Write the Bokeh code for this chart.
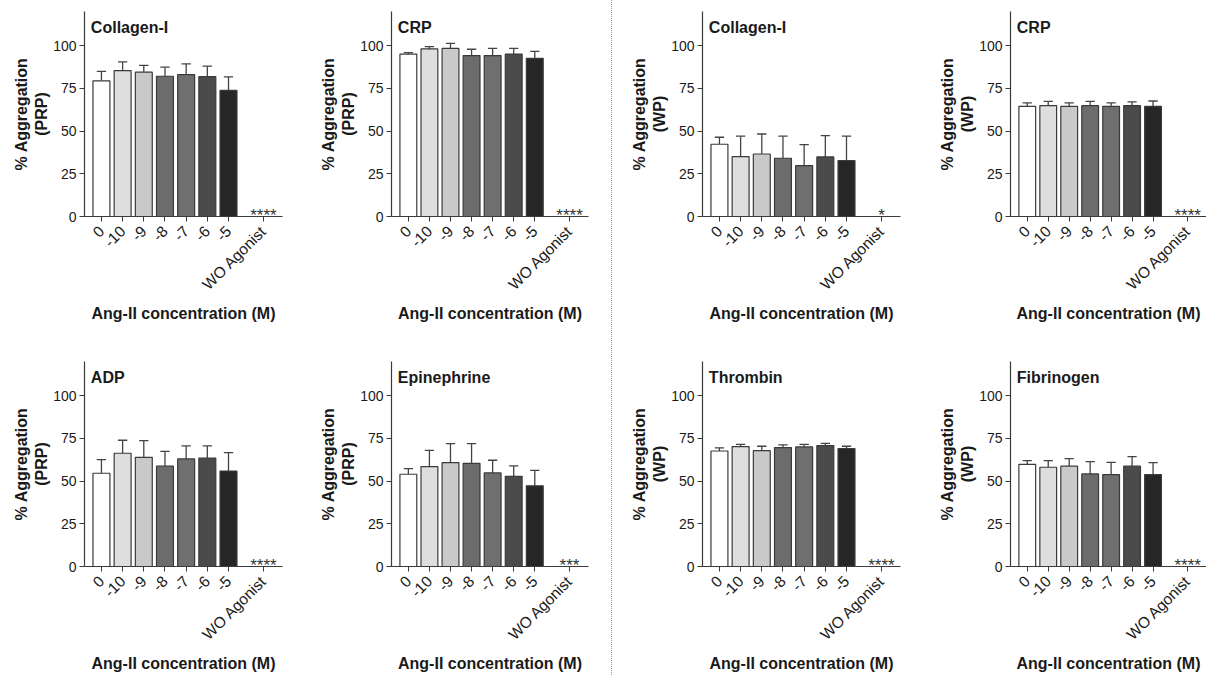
import math
from bokeh.plotting import figure
from bokeh.layouts import row, column
from bokeh.models import Range1d, FixedTicker, Label, Div, ColumnDataSource
from bokeh.embed import file_html
from bokeh.resources import INLINE

# ---------------- data ----------------
categories = ["0", "-10", "-9", "-8", "-7", "-6", "-5", "WO Agonist"]
cat_pos = [0, 1, 2, 3, 4, 5, 6, 7.65]
bar_colors = ["#ffffff", "#dedede", "#c9c9c9", "#6c6c6c", "#6f6f6f", "#4b4b4b", "#262626"]

titles = ["Collagen-I", "CRP", "Collagen-I", "CRP",
          "ADP", "Epinephrine", "Thrombin", "Fibrinogen"]
ylabels = ["% Aggregation\n(PRP)", "% Aggregation\n(PRP)", "% Aggregation\n(WP)", "% Aggregation\n(WP)",
           "% Aggregation\n(PRP)", "% Aggregation\n(PRP)", "% Aggregation\n(WP)", "% Aggregation\n(WP)"]
stars = ["****", "****", "*", "****", "****", "***", "****", "****"]

collagen_prp_mean = [79.4, 85.4, 84.5, 82.1, 83.1, 81.9, 73.8]
collagen_prp_err = [85.0, 90.5, 88.5, 87.4, 89.3, 88.0, 81.7]
crp_prp_mean = [95.1, 98.1, 98.4, 94.2, 94.2, 95.1, 92.6]
crp_prp_err = [95.9, 99.4, 101.4, 97.9, 98.4, 98.4, 96.7]
collagen_wp_mean = [42.3, 35.1, 36.6, 34.1, 29.8, 34.9, 32.7]
collagen_wp_err = [46.4, 47.0, 48.3, 47.0, 42.1, 47.4, 47.0]
crp_wp_mean = [64.5, 64.9, 64.5, 64.9, 64.5, 64.9, 64.5]
crp_wp_err = [66.5, 67.4, 66.5, 67.4, 66.5, 67.1, 67.6]
adp_prp_mean = [54.6, 66.3, 63.9, 58.7, 63.0, 63.5, 55.9]
adp_prp_err = [62.6, 73.9, 73.7, 67.4, 70.6, 70.6, 66.7]
epi_prp_mean = [54.0, 58.5, 60.8, 60.4, 54.8, 52.8, 47.2]
epi_prp_err = [57.3, 68.0, 71.9, 71.9, 62.2, 58.9, 56.3]
thr_wp_mean = [67.6, 70.2, 67.8, 69.6, 70.0, 70.8, 69.0]
thr_wp_err = [69.4, 71.5, 70.4, 71.2, 71.5, 72.1, 70.4]
fib_wp_mean = [59.8, 58.1, 58.7, 54.2, 53.8, 58.7, 53.8]
fib_wp_err = [62.0, 62.0, 63.2, 61.4, 61.0, 64.3, 60.8]

means = [collagen_prp_mean, crp_prp_mean, collagen_wp_mean, crp_wp_mean,
         adp_prp_mean, epi_prp_mean, thr_wp_mean, fib_wp_mean]
errs = [collagen_prp_err, crp_prp_err, collagen_wp_err, crp_wp_err,
        adp_prp_err, epi_prp_err, thr_wp_err, fib_wp_err]

y_ticks = [0, 25, 50, 75, 100]

# ---------------- layout geometry ----------------
COL_W = [303, 308, 292, 301]
COL_BL = [84, 88, 89, 105]
COL_BR = [21, 23, 5, 0]
ROW_H = [337, 338]
ROW_BT = [11, 24]
ROW_BB = [121, 109]

FONT = "Liberation Sans"
AX_COL = "#3a3a3a"
TXT_COL = "#1a1a1a"


def make_panel(i):
    r, c = divmod(i, 4)
    p = figure(width=COL_W[c], height=ROW_H[r],
               x_range=Range1d(-0.8, 8.55), y_range=Range1d(0, 120),
               output_backend="svg", toolbar_location=None,
               min_border_left=COL_BL[c], min_border_right=COL_BR[c],
               min_border_top=ROW_BT[r], min_border_bottom=ROW_BB[r])
    p.outline_line_color = None
    p.grid.visible = False
    p.background_fill_color = "white"
    p.border_fill_color = "white"

    m = means[i]
    e = errs[i]
    xs = cat_pos[:7]
    src = ColumnDataSource(dict(x=xs, top=m, err=e, color=bar_colors,
                                xl=[x - 0.22 for x in xs], xr=[x + 0.22 for x in xs]))
    p.segment(x0="x", y0="top", x1="x", y1="err", source=src, line_color="#444444", line_width=1.3)
    p.segment(x0="xl", y0="err", x1="xr", y1="err", source=src, line_color="#444444", line_width=1.3)
    p.vbar(x="x", top="top", width=0.8, bottom=0, fill_color="color",
           line_color="#3a3a3a", line_width=1.2, source=src)

    # significance stars over the WO Agonist position
    p.text(x=[cat_pos[7]], y=[0.3], text=[stars[i]], text_align="center",
           text_baseline="alphabetic", text_font_size="17px", text_color="#333333",
           text_font={"value": FONT})

    # panel title
    p.add_layout(Label(x=-0.5, y=110.5, text=titles[i], text_font=FONT, text_font_style="bold",
                       text_font_size="16px", text_color=TXT_COL, text_baseline="middle",
                       text_align="left"))

    # x axis
    xa = p.xaxis[0]
    xa.ticker = FixedTicker(ticks=cat_pos)
    xa.major_label_overrides = {float(k): v for k, v in zip(cat_pos, categories)}
    xa.major_label_orientation = math.pi / 4
    xa.minor_tick_line_color = None
    xa.major_tick_in = 0
    xa.major_tick_out = 5
    xa.axis_line_color = AX_COL
    xa.major_tick_line_color = AX_COL
    xa.axis_line_width = 1.2
    xa.major_label_text_font = FONT
    xa.major_label_text_font_size = "15.5px"
    xa.major_label_text_color = TXT_COL
    xa.major_label_standoff = 7
    xa.axis_label = "Ang-II concentration (M)"
    xa.axis_label_text_font = FONT
    xa.axis_label_text_font_style = "bold"
    xa.axis_label_text_font_size = "16px"
    xa.axis_label_text_color = TXT_COL
    xa.axis_label_standoff = 3

    # y axis
    ya = p.yaxis[0]
    ya.ticker = FixedTicker(ticks=y_ticks)
    ya.minor_tick_line_color = None
    ya.major_tick_in = 0
    ya.major_tick_out = 5
    ya.axis_line_color = AX_COL
    ya.major_tick_line_color = AX_COL
    ya.axis_line_width = 1.2
    ya.major_label_text_font = FONT
    ya.major_label_text_font_size = "14px"
    ya.major_label_text_color = TXT_COL
    ya.major_label_standoff = 3
    ya.axis_label = ylabels[i]
    ya.axis_label_text_font = FONT
    ya.axis_label_text_font_style = "bold"
    ya.axis_label_text_font_size = "16px"
    ya.axis_label_text_color = TXT_COL
    ya.axis_label_standoff = 0
    return p


panels = [make_panel(i) for i in range(8)]

sep = Div(text="", width=2, height=675, margin=0,
          styles={"border-left": "1px dotted #9a9a9a", "height": "675px", "box-sizing": "border-box"})

layout = row(column(panels[0], panels[4]),
             column(panels[1], panels[5]),
             sep,
             column(panels[2], panels[6]),
             column(panels[3], panels[7]))

open("out.html", "w").write(file_html(layout, INLINE))
